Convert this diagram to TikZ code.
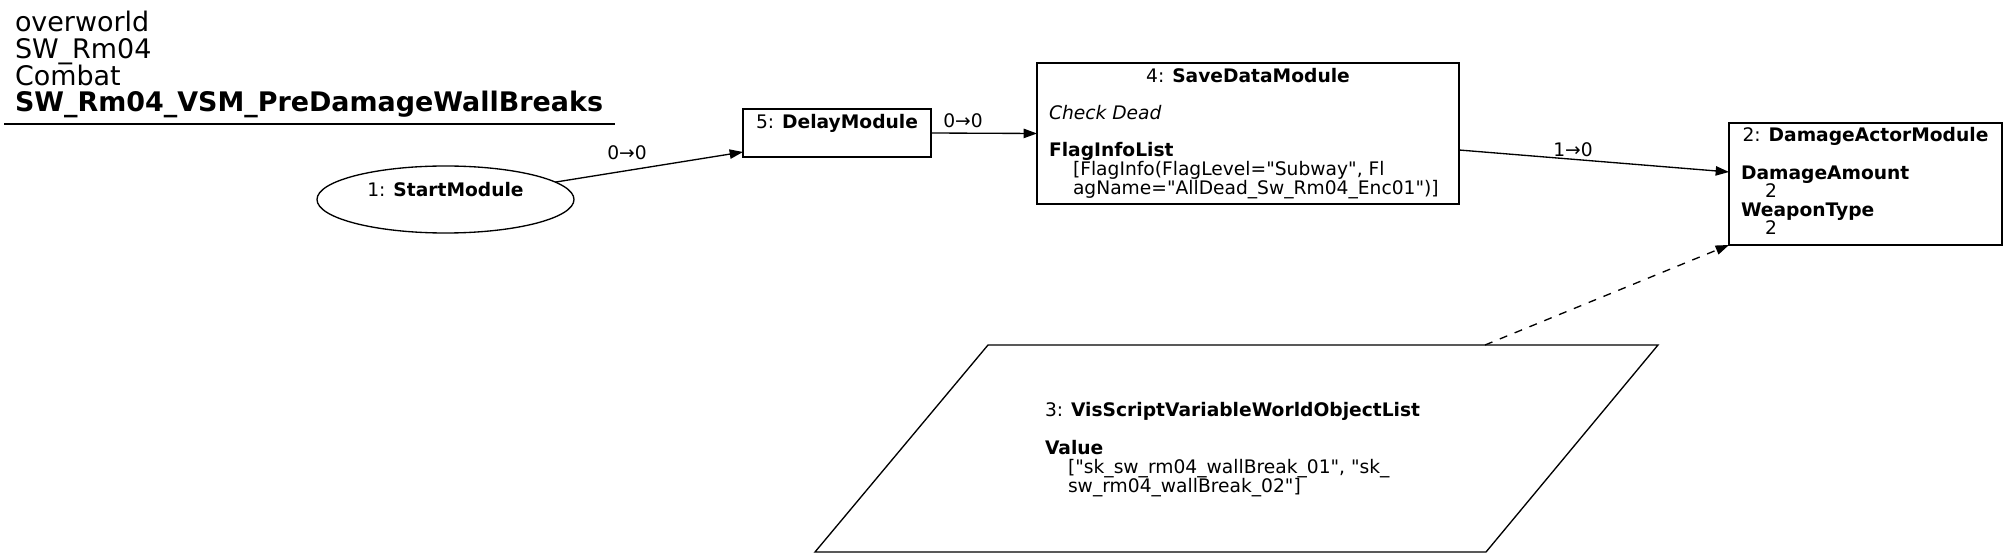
\documentclass[tikz,border=0pt]{standalone}
\usepackage{fontspec}
\setmainfont[Ligatures=TeXOff]{DejaVu Sans}
\usetikzlibrary{arrows.meta,shapes.geometric,fit,calc}
\newcommand{\qd}{\char34\relax}
\begin{document}
\begin{tikzpicture}[x=0.75pt,y=-0.75pt,
  every node/.style={inner sep=0pt,outer sep=0pt},
  box/.style={draw,line width=1pt,rectangle,inner sep=0pt},
  txt/.style={anchor=base west,font=\fontsize{14pt}{14.25pt}\selectfont},
  ctxt/.style={anchor=base,font=\fontsize{14pt}{14.25pt}\selectfont},
  ttl/.style={anchor=base west,font=\fontsize{20.2pt}{20.5pt}\selectfont},
  edge/.style={line width=1pt,-{Triangle[length=10pt,width=7pt]}},
  dedge/.style={edge,dash pattern=on 6pt off 6pt}]
\useasboundingbox (0,0) rectangle (2008,559);
% title
\node[ttl] (t1) at (15,32) {overworld};
\node[ttl] (t2) at (15,59) {SW\_Rm04};
\node[ttl] (t3) at (15,86) {Combat};
\node[ttl] (t4) at (15,112) {\bfseries SW\_Rm04\_VSM\_PreDamageWallBreaks};
\draw[line width=1pt] (4,124) -- (615,124);
% 1: StartModule
\node[draw,line width=1pt,ellipse,minimum width=192.75pt,minimum height=50.25pt] (start) at (445.5,199.5) {};
\node[ctxt] (startl) at (445.5,196.5) {1: \textbf{StartModule}};
% 5: DelayModule
\node[box,fit={(743,109) (931,157)}] (delay) {};
\node[ctxt] (delayl) at (837,129) {5: \textbf{DelayModule}};
% 4: SaveDataModule
\node[box,fit={(1037,63) (1459,204)}] (save) {};
\node[ctxt] (savel) at (1248,83) {4: \textbf{SaveDataModule}};
\node[txt] (save1) at (1049,120) {\itshape Check Dead};
\node[txt] (save2) at (1049,157) {\bfseries FlagInfoList};
\node[txt] (save3) at (1073,176) {[FlagInfo(FlagLevel=\qd Subway\qd, Fl};
\node[txt] (save4) at (1073,195) {agName=\qd AllDead\_Sw\_Rm04\_Enc01\qd)]};
% 2: DamageActorModule
\node[box,fit={(1729,123) (2002,245)}] (dmg) {};
\node[ctxt] (dmgl) at (1865.5,142) {2: \textbf{DamageActorModule}};
\node[txt] (dmg1) at (1741,179.5) {\bfseries DamageAmount};
\node[txt] (dmg2) at (1765,198) {2};
\node[txt] (dmg3) at (1741,216.5) {\bfseries WeaponType};
\node[txt] (dmg4) at (1765,235) {2};
% 3: VisScriptVariableWorldObjectList
\draw[line width=1pt] (988,345) -- (1658,345) -- (1486,552) -- (815,552) -- cycle;
\coordinate (vtop) at (1485,345);
\node[txt] (vis) at (1045,416) {3: \textbf{VisScriptVariableWorldObjectList}};
\node[txt] (vis1) at (1045,454) {\bfseries Value};
\node[txt] (vis2) at (1068,473) {[\qd sk\_sw\_rm04\_wallBreak\_01\qd, \qd sk\_};
\node[txt] (vis3) at (1068,492) {sw\_rm04\_wallBreak\_02\qd]};
% edges
\draw[edge] (start.9.6) -- ($(delay.west)+(0,19)$);
\node[ctxt] (e1) at (627,160) {0→0};
\draw[edge] (delay.east) -- (save.west);
\node[ctxt] (e2) at (963,128) {0→0};
\draw[edge] ($(save.east)+(0,16.5)$) -- ($(dmg.west)+(0,-12)$);
\node[ctxt] (e3) at (1573,157) {1→0};
\draw[dedge] (vtop) -- (dmg.south west);
\end{tikzpicture}
\end{document}
